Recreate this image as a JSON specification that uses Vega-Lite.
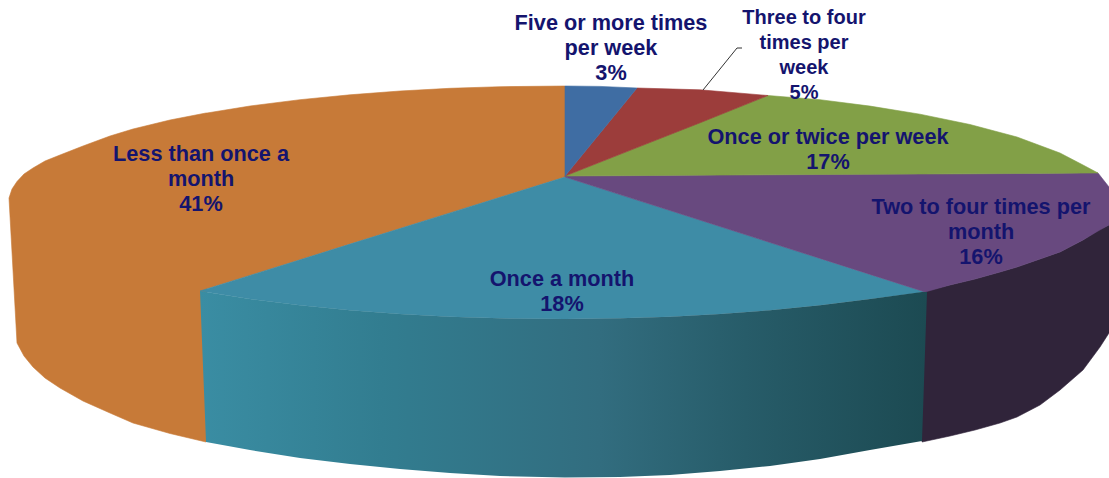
{
  "$schema": "https://vega.github.io/schema/vega-lite/v6.json",
  "width": 1109,
  "height": 478,
  "padding": 0,
  "autosize": {"type": "none"},
  "background": "#ffffff",
  "view": {"stroke": null},
  "config": {"axis": {"disable": true}},
  "datasets": {
    "slices": [
      {"slice": "Less than once a month", "x": 9, "y": 198, "y2": 198},
      {"slice": "Less than once a month", "x": 12, "y": 189, "y2": 252},
      {"slice": "Less than once a month", "x": 17, "y": 181.5, "y2": 343},
      {"slice": "Less than once a month", "x": 24, "y": 174, "y2": 356},
      {"slice": "Less than once a month", "x": 33, "y": 168, "y2": 367},
      {"slice": "Less than once a month", "x": 45, "y": 161, "y2": 378},
      {"slice": "Less than once a month", "x": 60, "y": 155, "y2": 388},
      {"slice": "Less than once a month", "x": 83, "y": 146, "y2": 401},
      {"slice": "Less than once a month", "x": 110, "y": 136, "y2": 413},
      {"slice": "Less than once a month", "x": 133, "y": 129, "y2": 423},
      {"slice": "Less than once a month", "x": 170, "y": 120, "y2": 433.5},
      {"slice": "Less than once a month", "x": 206, "y": 113, "y2": 442},
      {"slice": "Less than once a month", "x": 207, "y": 113, "y2": 288.8},
      {"slice": "Less than once a month", "x": 250, "y": 106, "y2": 275.4},
      {"slice": "Less than once a month", "x": 300, "y": 99.7, "y2": 259.8},
      {"slice": "Less than once a month", "x": 350, "y": 94.8, "y2": 244.1},
      {"slice": "Less than once a month", "x": 400, "y": 91, "y2": 228.5},
      {"slice": "Less than once a month", "x": 450, "y": 88.3, "y2": 212.9},
      {"slice": "Less than once a month", "x": 500, "y": 86.7, "y2": 197.3},
      {"slice": "Less than once a month", "x": 565, "y": 86, "y2": 177},

      {"slice": "Two to four times per month (wall)", "x": 922, "y": 292, "y2": 442},
      {"slice": "Two to four times per month (wall)", "x": 950, "y": 285, "y2": 436},
      {"slice": "Two to four times per month (wall)", "x": 975, "y": 279, "y2": 430},
      {"slice": "Two to four times per month (wall)", "x": 1000, "y": 272, "y2": 423},
      {"slice": "Two to four times per month (wall)", "x": 1017, "y": 267, "y2": 417},
      {"slice": "Two to four times per month (wall)", "x": 1040, "y": 259, "y2": 405},
      {"slice": "Two to four times per month (wall)", "x": 1060, "y": 252, "y2": 390},
      {"slice": "Two to four times per month (wall)", "x": 1083, "y": 240, "y2": 370},
      {"slice": "Two to four times per month (wall)", "x": 1100, "y": 229, "y2": 347},
      {"slice": "Two to four times per month (wall)", "x": 1109, "y": 225, "y2": 333},

      {"slice": "Once a month", "x": 200, "y": 291, "y2": 291},
      {"slice": "Once a month", "x": 250, "y": 275.4, "y2": 298.9},
      {"slice": "Once a month", "x": 300, "y": 259.8, "y2": 305.3},
      {"slice": "Once a month", "x": 350, "y": 244.1, "y2": 310.2},
      {"slice": "Once a month", "x": 400, "y": 228.5, "y2": 314},
      {"slice": "Once a month", "x": 450, "y": 212.9, "y2": 316.7},
      {"slice": "Once a month", "x": 500, "y": 197.3, "y2": 318.3},
      {"slice": "Once a month", "x": 565, "y": 177, "y2": 319},
      {"slice": "Once a month", "x": 620, "y": 194.6, "y2": 318.3},
      {"slice": "Once a month", "x": 670, "y": 210.5, "y2": 316.7},
      {"slice": "Once a month", "x": 720, "y": 226.5, "y2": 314},
      {"slice": "Once a month", "x": 770, "y": 242.5, "y2": 310.2},
      {"slice": "Once a month", "x": 820, "y": 258.4, "y2": 305.3},
      {"slice": "Once a month", "x": 870, "y": 274.4, "y2": 298.9},
      {"slice": "Once a month", "x": 925, "y": 292, "y2": 292},

      {"slice": "Two to four times per month", "x": 565, "y": 176, "y2": 177},
      {"slice": "Two to four times per month", "x": 620, "y": 175.7, "y2": 194.6},
      {"slice": "Two to four times per month", "x": 670, "y": 175.4, "y2": 210.5},
      {"slice": "Two to four times per month", "x": 720, "y": 175.1, "y2": 226.5},
      {"slice": "Two to four times per month", "x": 770, "y": 174.8, "y2": 242.5},
      {"slice": "Two to four times per month", "x": 820, "y": 174.5, "y2": 258.4},
      {"slice": "Two to four times per month", "x": 870, "y": 174.3, "y2": 274.4},
      {"slice": "Two to four times per month", "x": 925, "y": 174, "y2": 292},
      {"slice": "Two to four times per month", "x": 950, "y": 173.9, "y2": 285},
      {"slice": "Two to four times per month", "x": 975, "y": 173.8, "y2": 279},
      {"slice": "Two to four times per month", "x": 1000, "y": 173.6, "y2": 272},
      {"slice": "Two to four times per month", "x": 1017, "y": 173.5, "y2": 267},
      {"slice": "Two to four times per month", "x": 1040, "y": 173.4, "y2": 259},
      {"slice": "Two to four times per month", "x": 1060, "y": 173.3, "y2": 252},
      {"slice": "Two to four times per month", "x": 1083, "y": 173.1, "y2": 240},
      {"slice": "Two to four times per month", "x": 1098, "y": 173, "y2": 231},
      {"slice": "Two to four times per month", "x": 1109, "y": 187, "y2": 225},

      {"slice": "Once or twice per week", "x": 565, "y": 176, "y2": 176},
      {"slice": "Once or twice per week", "x": 768, "y": 95.5, "y2": 174.8},
      {"slice": "Once or twice per week", "x": 820, "y": 99.7, "y2": 174.5},
      {"slice": "Once or twice per week", "x": 870, "y": 106.1, "y2": 174.3},
      {"slice": "Once or twice per week", "x": 920, "y": 114.2, "y2": 174},
      {"slice": "Once or twice per week", "x": 970, "y": 124.5, "y2": 173.8},
      {"slice": "Once or twice per week", "x": 1017, "y": 137, "y2": 173.5},
      {"slice": "Once or twice per week", "x": 1060, "y": 153, "y2": 173.3},
      {"slice": "Once or twice per week", "x": 1083, "y": 165, "y2": 173.1},
      {"slice": "Once or twice per week", "x": 1098, "y": 173, "y2": 173},

      {"slice": "Three to four times per week", "x": 565, "y": 176, "y2": 176},
      {"slice": "Three to four times per week", "x": 637, "y": 88, "y2": 147.6},
      {"slice": "Three to four times per week", "x": 700, "y": 89.8, "y2": 122.8},
      {"slice": "Three to four times per week", "x": 768, "y": 95.5, "y2": 95.5},

      {"slice": "Five or more times per week", "x": 565, "y": 86, "y2": 176},
      {"slice": "Five or more times per week", "x": 600, "y": 86.4, "y2": 133.2},
      {"slice": "Five or more times per week", "x": 637, "y": 88, "y2": 88}
    ],
    "frontWall": [
      {"x": 200, "y": 291, "y2": 291},
      {"x": 206, "y": 292, "y2": 442},
      {"x": 250, "y": 299, "y2": 450},
      {"x": 300, "y": 305.3, "y2": 458},
      {"x": 350, "y": 310.2, "y2": 464},
      {"x": 400, "y": 314, "y2": 469},
      {"x": 450, "y": 316.7, "y2": 473},
      {"x": 500, "y": 318.3, "y2": 476},
      {"x": 565, "y": 319, "y2": 477.5},
      {"x": 620, "y": 318.3, "y2": 477},
      {"x": 670, "y": 316.7, "y2": 475},
      {"x": 720, "y": 314, "y2": 471},
      {"x": 770, "y": 310.2, "y2": 466},
      {"x": 820, "y": 305.3, "y2": 459},
      {"x": 870, "y": 298.9, "y2": 450},
      {"x": 922, "y": 292, "y2": 441},
      {"x": 927, "y": 292, "y2": 292}
    ],
    "leader": [
      {"x": 703, "y": 90},
      {"x": 737, "y": 48},
      {"x": 742, "y": 48}
    ],
    "labels": [
      {"label": "Five or more times\nper week\n3%", "share": 3, "x": 611, "y": 23},
      {"label": "Three to four\ntimes per\nweek\n5%", "share": 5, "x": 804, "y": 18},
      {"label": "Once or twice per week\n17%", "share": 17, "x": 828, "y": 137},
      {"label": "Two to four times per\nmonth\n16%", "share": 16, "x": 981, "y": 207},
      {"label": "Once a month\n18%", "share": 18, "x": 562, "y": 279},
      {"label": "Less than once a\nmonth\n41%", "share": 41, "x": 201, "y": 154}
    ]
  },
  "encoding": {
    "x": {"field": "x", "type": "quantitative", "scale": {"domain": [0, 1109], "nice": false, "zero": false}, "axis": null},
    "y": {"field": "y", "type": "quantitative", "scale": {"domain": [478, 0], "nice": false, "zero": false}, "axis": null}
  },
  "layer": [
    {
      "data": {"name": "slices"},
      "mark": {"type": "area", "opacity": 1, "strokeWidth": 0.6},
      "encoding": {
        "y2": {"field": "y2"},
        "color": {
          "field": "slice",
          "type": "nominal",
          "legend": null,
          "scale": {
            "domain": [
              "Less than once a month",
              "Two to four times per month (wall)",
              "Once a month",
              "Two to four times per month",
              "Once or twice per week",
              "Three to four times per week",
              "Five or more times per week"
            ],
            "range": ["#c77a38", "#30243a", "#3e8ca6", "#68497f", "#82a047", "#9c3d3b", "#3f6da3"]
          }
        },
        "stroke": {
          "field": "slice",
          "type": "nominal",
          "legend": null,
          "scale": {
            "domain": [
              "Less than once a month",
              "Two to four times per month (wall)",
              "Once a month",
              "Two to four times per month",
              "Once or twice per week",
              "Three to four times per week",
              "Five or more times per week"
            ],
            "range": ["#c77a38", "#30243a", "#3e8ca6", "#68497f", "#82a047", "#9c3d3b", "#3f6da3"]
          }
        }
      }
    },
    {
      "data": {"name": "frontWall"},
      "mark": {
        "type": "area",
        "color": {
          "gradient": "linear",
          "x1": 0, "y1": 0, "x2": 1, "y2": 0,
          "stops": [
            {"offset": 0, "color": "#3a8da3"},
            {"offset": 0.25, "color": "#327d90"},
            {"offset": 0.55, "color": "#326d7f"},
            {"offset": 0.75, "color": "#275c69"},
            {"offset": 1, "color": "#1c4a52"}
          ]
        }
      },
      "encoding": {"y2": {"field": "y2"}}
    },
    {
      "data": {"name": "leader"},
      "mark": {"type": "line", "color": "#333333", "strokeWidth": 1},
      "encoding": {"order": {"field": "x", "type": "quantitative"}}
    },
    {
      "data": {"name": "labels"},
      "mark": {
        "type": "text",
        "font": "Liberation Sans",
        "fontWeight": "bold",
        "color": "#14146e",
        "align": "center",
        "baseline": "middle",
        "lineBreak": "\n",
        "lineHeight": 25
      },
      "encoding": {
        "text": {"field": "label", "type": "nominal"},
        "size": {"condition": {"test": "datum.share === 5", "value": 20}, "value": 21.7}
      }
    }
  ]
}
